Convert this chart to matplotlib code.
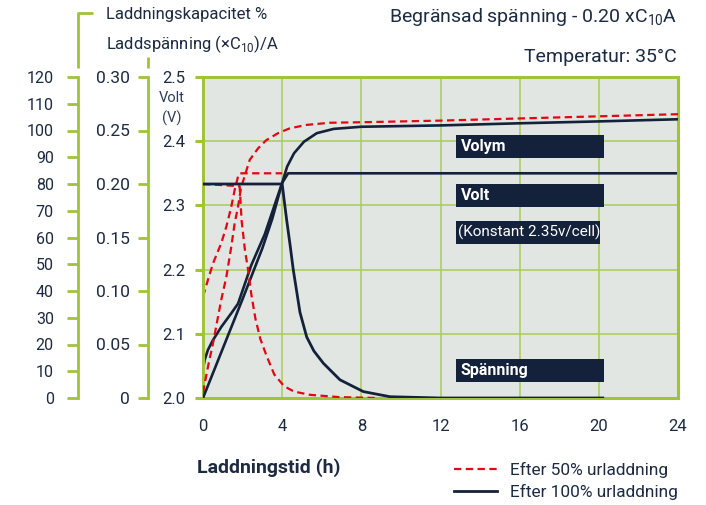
import matplotlib
matplotlib.use("Agg")
import matplotlib.pyplot as plt
from matplotlib.lines import Line2D
from matplotlib.patches import Rectangle

plt.rcParams["font.family"] = ["Roboto", "DejaVu Sans"]

GREEN = "#9fc33b"
GRID = "#a9cd55"
BG = "#e2e6e3"
NAVY = "#13213a"
RED = "#e30613"
TXT = "#1c2a42"

# Efter 100% urladdning (heldragen)
t_cap_100 = [0, 1, 2, 3, 3.5, 4, 4.25, 4.6, 5.1, 5.75, 6.6, 8, 12, 16, 20, 24]
cap_100 = [0, 18.5, 37, 56, 67, 80.4, 86.5, 91.5, 95.8, 99, 100.6, 101.4, 101.9, 102.7, 103.4, 104.2]

t_volt_100 = [0, 0.08, 0.25, 0.5, 0.93, 1.43, 1.77, 2.44, 3.12, 3.7, 4.0, 4.3, 24]
volt_100 = [2.044, 2.059, 2.075, 2.09, 2.111, 2.132, 2.147, 2.207, 2.255, 2.308, 2.335, 2.35, 2.35]

t_cur_100 = [0, 4.0, 4.1, 4.23, 4.4, 4.56, 4.9, 5.24, 5.6, 6.08, 6.92, 8.1, 9.45, 12, 20.2]
cur_100 = [0.200, 0.200, 0.185, 0.166, 0.143, 0.120, 0.080, 0.057, 0.044, 0.0325, 0.017, 0.006, 0.0012, 0.0, 0.0]

# Efter 50% urladdning (streckad)
t_cap_50 = [0, 0.25, 0.51, 0.76, 0.92, 1.18, 1.43, 1.6, 1.77, 1.92, 2.17, 2.36, 2.78, 3.2,
            3.79, 4.38, 5.24, 6.42, 8.1, 12, 16, 20, 24]
cap_50 = [2, 11.7, 20.6, 30.4, 36.6, 45.3, 56.6, 65.3, 71.5, 78.5, 84.5, 89.0, 93.3, 96.4,
          99.0, 100.8, 102.1, 102.9, 103.1, 103.7, 104.5, 105.3, 106.1]

t_volt_50 = [0, 0.25, 0.51, 0.92, 1.18, 1.43, 1.6, 1.77, 1.85, 4.0]
volt_50 = [2.158, 2.184, 2.210, 2.241, 2.267, 2.298, 2.324, 2.345, 2.35, 2.35]

t_cur_50 = [0, 1.85, 1.95, 2.12, 2.27, 2.44, 2.65, 2.9, 3.2, 3.6, 4.1, 4.6, 5.4, 6.9, 8.9]
cur_50 = [0.200, 0.198, 0.166, 0.138, 0.121, 0.097, 0.074, 0.055, 0.040, 0.022, 0.011,
          0.006, 0.003, 0.0008, 0.0]

x_ticks = [0, 4, 8, 12, 16, 20, 24]
volt_ticks = [2.0, 2.1, 2.2, 2.3, 2.4, 2.5]
cap_ticks = [0, 10, 20, 30, 40, 50, 60, 70, 80, 90, 100, 110, 120]
cur_ticks = [0, 0.05, 0.10, 0.15, 0.20, 0.25, 0.30]
cur_labels = ["0", "0.05", "0.10", "0.15", "0.20", "0.25", "0.30"]

W, H = 706, 505
fig = plt.figure(figsize=(W / 100, H / 100), dpi=100)
ax = fig.add_axes([203 / W, 1 - 398 / H, 475 / W, 321 / H])
ax.set_facecolor(BG)
ax.set_xlim(0, 24)
ax.set_ylim(2.0, 2.5)
ax.set_xticks(x_ticks)
ax.set_yticks(volt_ticks)
ax.set_yticklabels([f"{v:.1f}" for v in volt_ticks])
ax.grid(True, color=GRID, linewidth=1.1)
ax.set_axisbelow(True)
for s in ax.spines.values():
    s.set_color(GREEN)
    s.set_linewidth(2.2)
ax.tick_params(axis="x", length=0, pad=15, labelsize=12, labelcolor=TXT)
ax.tick_params(axis="y", length=6, width=2.2, color=GREEN, pad=7, labelsize=12, labelcolor=TXT)

ax_cap = ax.twinx()
ax_cur = ax.twinx()
for tw, off in ((ax_cap, 90), (ax_cur, 39.6)):
    for side in ("right", "top", "bottom"):
        tw.spines[side].set_visible(False)
    tw.spines["left"].set_visible(True)
    tw.spines["left"].set_position(("outward", off))
    tw.spines["left"].set_color(GREEN)
    tw.spines["left"].set_linewidth(2.0)
    tw.yaxis.tick_left()
ax_cap.set_ylim(0, 120)
ax_cap.set_yticks(cap_ticks)
ax_cap.tick_params(axis="y", length=8, width=2.0, color=GREEN, pad=9.4, labelsize=11.5, labelcolor=TXT)
ax_cur.set_ylim(0, 0.30)
ax_cur.set_yticks(cur_ticks)
ax_cur.set_yticklabels(cur_labels)
ax_cur.tick_params(axis="y", length=7.2, width=2.0, color=GREEN, pad=5.8, labelsize=12.5, labelcolor=TXT)

dash = (3.3, 2.0)
ax.plot(t_volt_50, volt_50, color=RED, lw=1.6, dashes=dash)
ax.plot(t_volt_100, volt_100, color=NAVY, lw=1.9)
ax_cap.plot(t_cap_50, cap_50, color=RED, lw=1.6, dashes=dash)
ax_cap.plot(t_cap_100, cap_100, color=NAVY, lw=1.9)
l50, = ax_cur.plot(t_cur_50, cur_50, color=RED, lw=1.6, dashes=dash)
l100, = ax_cur.plot(t_cur_100, cur_100, color=NAVY, lw=2.0)

# etikettrutor
boxes = [
    (0.7835, "Volym"),
    (0.6308, "Volt"),
    (0.0857, "Spänning"),
]
for yc, txt in boxes:
    ax_cur.add_patch(Rectangle((0.5326, yc - 0.036), 0.3116, 0.072, transform=ax_cur.transAxes,
                               facecolor=NAVY, edgecolor="none", zorder=5))
    ax_cur.text(0.543, yc, txt, transform=ax_cur.transAxes, color="white", fontsize=11.5,
                fontweight="bold", va="center", ha="left", zorder=6)
ax_cur.add_patch(Rectangle((0.5326, 0.480), 0.3034, 0.071, transform=ax_cur.transAxes,
                           facecolor=NAVY, edgecolor="none", zorder=5))
ax_cur.text(0.536, 0.5155, "(Konstant 2.35v/cell)", transform=ax_cur.transAxes, color="white",
            fontsize=11, va="center", ha="left", zorder=6)

# rubriker
fig.text(106 / W, 1 - 15 / H, "Laddningskapacitet %", fontsize=12, color=TXT, va="center")
fig.text(106 / W, 1 - 44 / H, r"Laddspänning (×C$_\mathregular{10}$)/A", fontsize=12, color=TXT,
         va="center")
fig.text(677 / W, 1 - 17 / H, r"Begränsad spänning - 0.20 xC$_\mathregular{10}$A", fontsize=14,
         color=TXT, va="center", ha="right")
fig.text(677 / W, 1 - 57 / H, "Temperatur: 35°C", fontsize=14, color=TXT, va="center", ha="right")
fig.text(172 / W, 1 - 98 / H, "Volt", fontsize=10.5, color="#2e3d57", va="center", ha="center")
fig.text(172 / W, 1 - 118 / H, "(V)", fontsize=10.5, color="#2e3d57", va="center", ha="center")
fig.text(197 / W, 1 - 468 / H, "Laddningstid (h)", fontsize=14, fontweight="semibold", color=TXT,
         va="center")

# hakparenteser ovanför axlarna
fig.add_artist(Line2D([93 / W, 78 / W, 78 / W], [1 - 13 / H, 1 - 13 / H, 1 - 68 / H],
                      color=GREEN, lw=2.0, solid_capstyle="butt"))
fig.add_artist(Line2D([148 / W, 148 / W], [1 - 57 / H, 1 - 68 / H],
                      color=GREEN, lw=2.0, solid_capstyle="butt"))

leg = fig.legend([l50, l100], ["Efter 50% urladdning", "Efter 100% urladdning"],
                 loc="upper left", bbox_to_anchor=(454 / W, 1 - 462 / H), frameon=False,
                 fontsize=12.4, handlelength=2.5, handletextpad=0.75, labelspacing=0.35,
                 borderpad=0, borderaxespad=0)
for t in leg.get_texts():
    t.set_color(TXT)

fig.savefig("out.png", dpi=100)
